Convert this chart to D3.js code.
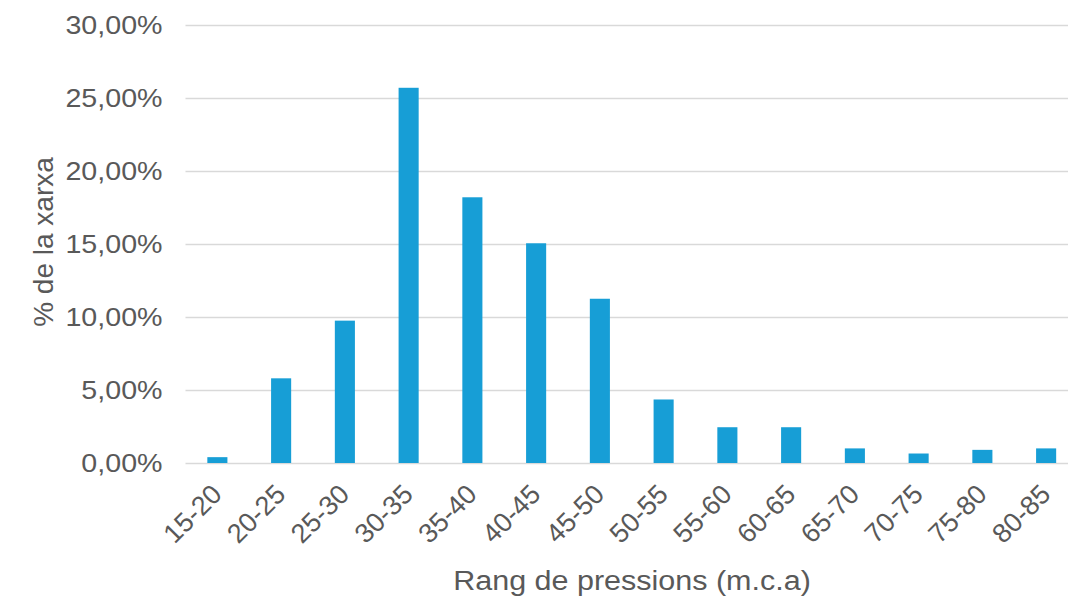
<!DOCTYPE html>
<html>
<head>
<meta charset="utf-8">
<script src="https://cdn.jsdelivr.net/npm/d3@7"></script>
<style>
  html, body { margin: 0; padding: 0; background: #fff; }
  svg { display: block; font-family: "Liberation Sans", Arial, sans-serif; }
</style>
</head>
<body>
<svg id="chart" width="1068" height="601"></svg>
<script>
// Pressure ranges (m.c.a) and share of the network in each range (%)
const categories = ["15-20","20-25","25-30","30-35","35-40","40-45","45-50","50-55","55-60","60-65","65-70","70-75","75-80","80-85"];
const values = [0.4, 5.8, 9.75, 25.7, 18.2, 15.05, 11.25, 4.35, 2.45, 2.45, 1.0, 0.65, 0.9, 1.0];
const yTicks = [0, 5, 10, 15, 20, 25, 30];
const yTitle = "% de la xarxa";
const xTitle = "Rang de pressions (m.c.a)";

const svg = d3.select("#chart");
const margin = { left: 185.5, right: -10, top: 25, bottom: 138 };
const W = 1068, H = 601;
const grey = "#595959";

const x = d3.scaleBand()
  .domain(categories)
  .range([margin.left, W - margin.right])
  .paddingInner(0.685)
  .paddingOuter(0.3425);

const y = d3.scaleLinear()
  .domain([0, 30])
  .range([H - margin.bottom, margin.top]);

const fmt = v => v.toFixed(2).replace(".", ",") + "%";

// horizontal gridlines + y tick labels
const yAxis = d3.axisLeft(y)
  .tickValues(yTicks)
  .tickSize(-(W - margin.left))
  .tickFormat(fmt);

const gy = svg.append("g")
  .attr("transform", `translate(${margin.left},0)`)
  .call(yAxis);
gy.select(".domain").remove();
gy.selectAll(".tick line").attr("stroke", "#d9d9d9").attr("stroke-width", 1.5);
gy.selectAll(".tick text")
  .attr("fill", grey)
  .attr("font-size", 26.5)
  .attr("font-family", "'Liberation Sans', Arial, sans-serif")
  .attr("x", 0)
  .attr("transform", "translate(-23,0) scale(1.08,1)");

// bars
svg.append("g")
  .selectAll("rect")
  .data(values)
  .join("rect")
  .attr("x", (d, i) => x(categories[i]))
  .attr("width", x.bandwidth())
  .attr("y", d => y(d))
  .attr("height", d => y(0) - y(d))
  .attr("fill", "#179ed6");

// x axis labels, rotated
const xAxis = d3.axisBottom(x).tickSize(0).tickPadding(0);
const gx = svg.append("g")
  .attr("transform", `translate(0,${y(0)})`)
  .call(xAxis);
gx.select(".domain").remove();
gx.selectAll(".tick text")
  .attr("fill", grey)
  .attr("font-size", 27)
  .attr("font-family", "'Liberation Sans', Arial, sans-serif")
  .attr("text-anchor", "end")
  .attr("dy", 0)
  .attr("y", 0)
  .attr("transform", "translate(6,33) rotate(-45)");

// axis titles
svg.append("text")
  .attr("transform", `translate(53,${(y(0) + y(30)) / 2 - 2}) rotate(-90)`)
  .attr("text-anchor", "middle")
  .attr("fill", grey)
  .attr("font-size", 28)
  .text(yTitle);

svg.append("text")
  .attr("transform", "translate(632,590) scale(1.09,1)")
  .attr("text-anchor", "middle")
  .attr("fill", grey)
  .attr("font-size", 28)
  .text(xTitle);
</script>
</body>
</html>
